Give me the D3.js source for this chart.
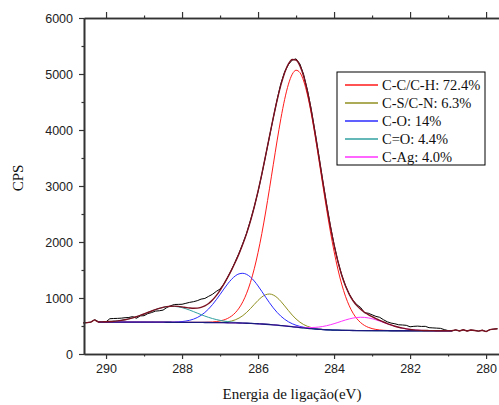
<!DOCTYPE html>
<html>
<head>
<meta charset="utf-8">
<script src="https://cdn.jsdelivr.net/npm/d3@7"></script>
<style>
  body { margin: 0; background: #fff; }
  svg { display: block; }
</style>
</head>
<body>
<div id="chart"></div>
<script>
const energy = [
  290.6, 290.5, 290.4, 290.3, 290.2, 290.1, 290.0, 289.9, 289.8, 289.7,
  289.6, 289.5, 289.4, 289.3, 289.2, 289.1, 289.0, 288.9, 288.8, 288.7,
  288.6, 288.5, 288.4, 288.3, 288.2, 288.1, 288.0, 287.9, 287.8, 287.7,
  287.6, 287.5, 287.4, 287.3, 287.2, 287.1, 287.0, 286.9, 286.8, 286.7,
  286.6, 286.5, 286.4, 286.3, 286.2, 286.1, 286.0, 285.9, 285.8, 285.7,
  285.6, 285.5, 285.4, 285.3, 285.2, 285.1, 285.0, 284.9, 284.8, 284.7,
  284.6, 284.5, 284.4, 284.3, 284.2, 284.1, 284.0, 283.9, 283.8, 283.7,
  283.6, 283.5, 283.4, 283.3, 283.2, 283.1, 283.0, 282.9, 282.8, 282.7,
  282.6, 282.5, 282.4, 282.3, 282.2, 282.1, 282.0, 281.9, 281.8, 281.7,
  281.6, 281.5, 281.4, 281.3, 281.2, 281.1, 281.0, 280.9, 280.8, 280.7,
  280.6, 280.5, 280.4, 280.3, 280.2, 280.1, 280.0, 279.9, 279.8, 279.7
]
const cps = [
  555, 560, 570, 612, 578, 572, 574, 630, 634, 636,
  640, 648, 652, 668, 638, 680, 684, 722, 740, 766,
  772, 784, 830, 862, 884, 886, 888, 905, 922, 934,
  952, 980, 992, 1030, 1066, 1118, 1160, 1248, 1370, 1500,
  1648, 1800, 1975, 2160, 2385, 2630, 2900, 3210, 3545, 3880,
  4215, 4540, 4830, 5040, 5170, 5250, 5270, 5180, 4990, 4710,
  4370, 3965, 3540, 3105, 2685, 2300, 1955, 1660, 1415, 1220,
  1070, 955, 880, 830, 735, 728, 700, 672, 655, 612,
  575, 552, 540, 522, 518, 512, 486, 494, 498, 492,
  494, 470, 466, 462, 458, 436, 418, 412, 430, 412,
  432, 410, 428, 420, 408, 424, 400, 435, 445, 452
]

// fitted peaks (gaussian)
const peakNames = ["C-C/C-H", "C-S/C-N", "C-O", "C=O", "C-Ag"]
const peakShare = ["72.4%", "6.3%", "14%", "4.4%", "4.0%"]
const peakCenter = [284.98, 285.69, 286.41, 288.26, 283.28]
const peakHeight = [4590, 545, 890, 285, 238]
const peakFwhm = [1.5, 1.0, 1.3, 1.5, 1.4]
const peakColor = ["#ff1a1a", "#8f8f20", "#2b2bff", "#30a0a0", "#ff33ff"]

// shirley background end levels and fit window
const bgHigh = 570
const bgLow = 415
const fitRange = [290.2, 280.9]

const xTicks = [290, 288, 286, 284, 282, 280]
const xMinor = [289, 287, 285, 283, 281]
const yTicks = [0, 1000, 2000, 3000, 4000, 5000, 6000]
const yMinor = [500, 1500, 2500, 3500, 4500, 5500]

const width = 499
const height = 405
const margin = { left: 84, top: 18, right: 0, bottom: 51 }

const svg = d3.select("#chart").append("svg")
  .attr("width", width)
  .attr("height", height)

const x = d3.scaleLinear().domain([290.58, 279.66]).range([margin.left, width - margin.right])
const y = d3.scaleLinear().domain([0, 6000]).range([height - margin.bottom, margin.top])

// model: components, shirley background, envelope
const gauss = (e, i) => peakHeight[i] * Math.exp(-4 * Math.LN2 * Math.pow((e - peakCenter[i]) / peakFwhm[i], 2))

const fitE = energy.filter(e => e <= fitRange[0] + 1e-6 && e >= fitRange[1] - 1e-6)
const sumAt = e => d3.sum(peakNames, (n, i) => gauss(e, i))

// cumulative area from low binding energy upward
const asc = fitE.slice().reverse()
const cum = [0]
for (let k = 1; k < asc.length; k++) {
  const h = asc[k] - asc[k - 1]
  cum.push(cum[k - 1] + h * (sumAt(asc[k]) + sumAt(asc[k - 1])) / 2)
}
const total = cum[cum.length - 1]
const bgMap = new Map(asc.map((e, k) => [e, bgLow + (bgHigh - bgLow) * cum[k] / total]))
const bg = e => bgMap.get(e)

const line = d3.line().x(d => x(d[0])).y(d => y(d[1]))
const smooth = d3.line().x(d => x(d[0])).y(d => y(d[1])).curve(d3.curveMonotoneX)

const plot = svg.append("g")

// raw data
plot.append("path")
  .datum(energy.map((e, i) => [e, cps[i]]))
  .attr("d", line)
  .attr("fill", "none")
  .attr("stroke", "#000")
  .attr("stroke-width", 1)

// components on top of background
peakNames.forEach((n, i) => {
  plot.append("path")
    .datum(fitE.map(e => [e, bg(e) + gauss(e, i)]))
    .attr("d", smooth)
    .attr("fill", "none")
    .attr("stroke", peakColor[i])
    .attr("stroke-width", 1)
})

plot.append("path")
  .datum(fitE.map(e => [e, bg(e)]))
  .attr("d", smooth)
  .attr("fill", "none")
  .attr("stroke", "#1a1a80")
  .attr("stroke-width", 1.3)

// envelope, with the data outside the fit window in the same colour
const leftPart = energy.map((e, i) => [e, cps[i]]).filter(d => d[0] > fitRange[0] + 1e-6)
const rightPart = energy.map((e, i) => [e, cps[i]]).filter(d => d[0] < fitRange[1] - 1e-6)
plot.append("path")
  .datum(leftPart)
  .attr("d", line)
  .attr("fill", "none").attr("stroke", "#7a1020").attr("stroke-width", 1.4)
plot.append("path")
  .datum([leftPart[leftPart.length - 1]].concat(fitE.map(e => [e, bg(e) + sumAt(e)])))
  .attr("d", smooth)
  .attr("fill", "none").attr("stroke", "#7a1020").attr("stroke-width", 1.4)
plot.append("path")
  .datum([[fitRange[1], bg(fitRange[1]) + sumAt(fitRange[1])]].concat(rightPart))
  .attr("d", line)
  .attr("fill", "none").attr("stroke", "#7a1020").attr("stroke-width", 1.4)

// axes
const axisColor = "#333"
function styleAxis(g) {
  g.select(".domain").attr("stroke", axisColor).attr("stroke-width", 1.6)
  g.selectAll(".tick line").attr("stroke", axisColor).attr("stroke-width", 1.2)
  g.selectAll(".tick text")
    .attr("fill", "#222")
    .attr("font-family", "'Liberation Sans', Arial, sans-serif")
    .attr("font-size", "12.5px")
}

svg.append("g")
  .attr("transform", `translate(0,${y(0)})`)
  .call(d3.axisBottom(x).tickValues(xMinor).tickSize(2.5).tickSizeOuter(0).tickFormat(""))
  .call(styleAxis)
svg.append("g")
  .attr("transform", `translate(0,${y(0)})`)
  .call(d3.axisBottom(x).tickValues(xTicks).tickSize(5).tickSizeOuter(0).tickPadding(5).tickFormat(d3.format("d")))
  .call(styleAxis)

svg.append("g")
  .attr("transform", `translate(0,${y(6000)})`)
  .call(d3.axisTop(x).tickValues(xMinor).tickSize(2.5).tickSizeOuter(0).tickFormat(""))
  .call(styleAxis)
svg.append("g")
  .attr("transform", `translate(0,${y(6000)})`)
  .call(d3.axisTop(x).tickValues(xTicks).tickSize(6).tickSizeOuter(0).tickFormat(""))
  .call(styleAxis)

svg.append("g")
  .attr("transform", `translate(${x(290.58)},0)`)
  .call(d3.axisLeft(y).tickValues(yMinor).tickSize(2.5).tickSizeOuter(0).tickFormat(""))
  .call(styleAxis)
svg.append("g")
  .attr("transform", `translate(${x(290.58)},0)`)
  .call(d3.axisLeft(y).tickValues(yTicks).tickSize(5).tickSizeOuter(0).tickPadding(6).tickFormat(d3.format("d")))
  .call(styleAxis)

// axis titles
svg.append("text")
  .attr("x", 292)
  .attr("y", 399)
  .attr("text-anchor", "middle")
  .attr("font-family", "'Liberation Serif', 'Times New Roman', serif")
  .attr("font-size", "15px")
  .attr("fill", "#111")
  .text("Energia de ligação(eV)")

svg.append("text")
  .attr("transform", "translate(23,178) rotate(-90)")
  .attr("text-anchor", "middle")
  .attr("font-family", "'Liberation Serif', 'Times New Roman', serif")
  .attr("font-size", "15px")
  .attr("fill", "#111")
  .text("CPS")

// legend
const legend = svg.append("g").attr("transform", "translate(337,72)")
legend.append("rect")
  .attr("width", 148)
  .attr("height", 93)
  .attr("fill", "#fff")
  .attr("stroke", "#000")
  .attr("stroke-width", 1)

peakNames.forEach((n, i) => {
  const row = legend.append("g").attr("transform", `translate(0,${13 + i * 18})`)
  row.append("line")
    .attr("x1", 8).attr("x2", 41)
    .attr("stroke", peakColor[i])
    .attr("stroke-width", 1.5)
  row.append("text")
    .attr("x", 45)
    .attr("y", 5)
    .attr("font-family", "'Liberation Serif', 'Times New Roman', serif")
    .attr("font-size", "14.5px")
    .attr("fill", "#111")
    .text(`${n}: ${peakShare[i]}`)
})
</script>
</body>
</html>
